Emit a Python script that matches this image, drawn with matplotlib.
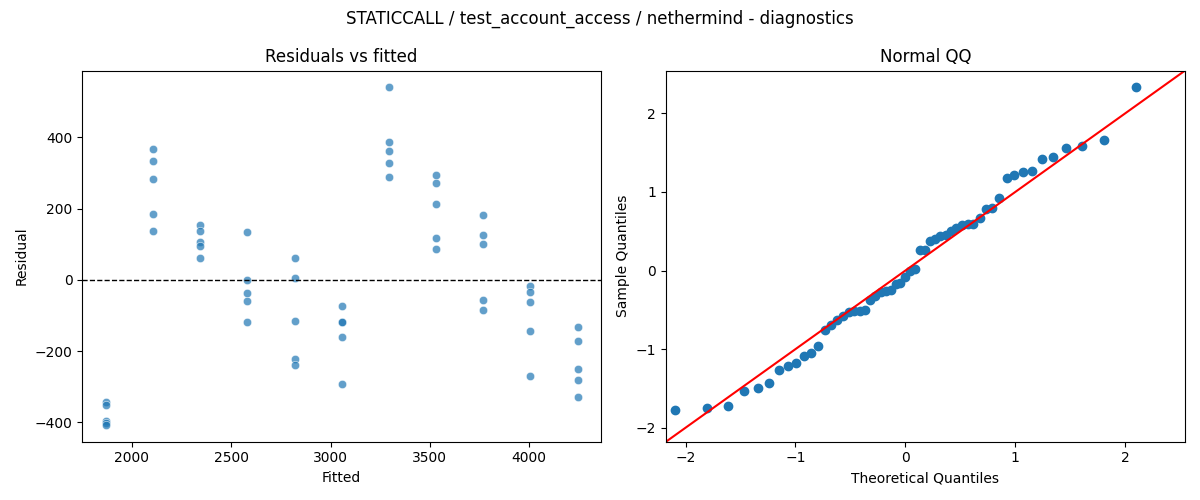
import numpy as np
import matplotlib
matplotlib.use('Agg')
import matplotlib.pyplot as plt
import seaborn as sns
from statistics import NormalDist

titolo = 'STATICCALL / test_account_access / nethermind - diagnostics'

# valori fitted (uno per gruppo) e residui letti per colonna
fitted = [1869, 2106, 2344, 2581, 2819, 3056, 3293, 3531, 3768, 4006, 4243]
res_1 = [-343, -351, -397, -401, -407]
res_2 = [366, 334, 283, 184, 137]
res_3 = [155, 137, 107, 94, 61]
res_4 = [134, -1, -38, -59, -117]
res_5 = [61, 5, -115, -221, -240]
res_6 = [-72, -117, -119, -160, -292]
res_7 = [540, 386, 361, 329, 290]
res_8 = [293, 272, 214, 117, 87]
res_9 = [181, 126, 102, -57, -84]
res_10 = [-18, -34, -62, -144, -269]
res_11 = [-132, -173, -250, -280, -330]

colonne = [res_1, res_2, res_3, res_4, res_5, res_6, res_7, res_8, res_9, res_10, res_11]
x = np.repeat(fitted, [len(c) for c in colonne])
r = np.concatenate(colonne)

# qq: residui standardizzati contro quantili normali, posizioni i/(n+1)
n = len(r)
campione = np.sort((r - r.mean()) / r.std())
teorici = np.array([NormalDist().inv_cdf(i / (n + 1)) for i in range(1, n + 1)])

fig, (ax1, ax2) = plt.subplots(1, 2, figsize=(12, 5), dpi=100)

sns.scatterplot(x=x, y=r, ax=ax1, alpha=0.7)
ax1.axhline(0, color='black', linestyle='--', linewidth=1)
ax1.set_title('Residuals vs fitted')
ax1.set_xlabel('Fitted')
ax1.set_ylabel('Residual')

ax2.plot(teorici, campione, 'o', color='C0', markeredgecolor='C0')
lim = (-2.178, 2.544)
ax2.plot(lim, lim, 'r-')
ax2.set_xlim(lim)
ax2.set_ylim(lim)
ax2.set_title('Normal QQ')
ax2.set_xlabel('Theoretical Quantiles')
ax2.set_ylabel('Sample Quantiles')

fig.suptitle(titolo)
fig.tight_layout()
fig.savefig('out.png')
